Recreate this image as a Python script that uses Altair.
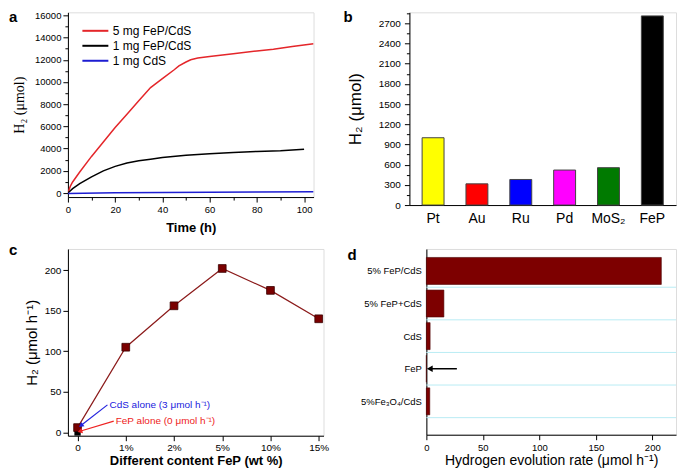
import json
import altair as alt
import pandas as pd

FONT = "Liberation Sans"

# ---------------- Panel a data ----------------
series_names = ["5 mg FeP/CdS", "1 mg FeP/CdS", "1 mg CdS"]
series_colors = ["#e4262a", "#000000", "#1d1dd2"]
red_t = [0, 1, 2, 5, 10, 15, 20, 25, 30, 35, 40, 45, 47, 50, 52, 55, 60, 70, 80, 87, 95, 104]
red_h = [0, 600, 1000, 1900, 3300, 4600, 5900, 7100, 8300, 9500, 10300, 11100, 11450, 11800,
         12000, 12150, 12300, 12550, 12800, 12950, 13200, 13450]
black_t = [0, 2, 5, 10, 15, 20, 25, 30, 35, 40, 50, 60, 70, 80, 90, 100]
black_h = [0, 400, 850, 1450, 2000, 2400, 2700, 2900, 3050, 3200, 3400, 3550, 3650, 3750, 3800, 3950]
blue_t = [0, 20, 40, 60, 80, 104]
blue_h = [-30, 20, 60, 80, 100, 120]

# ---------------- Panel b data ----------------
b_cats = ["Pt", "Au", "Ru", "Pd", "MoS₂", "FeP"]
b_vals = [1000, 315, 380, 520, 555, 2810]
b_colors = ["#ffff00", "#ff0000", "#0000ff", "#ff00ff", "#007a00", "#000000"]

# ---------------- Panel c data ----------------
c_labels = ["0", "1%", "2%", "5%", "10%", "15%"]
c_vals = [6, 105, 156, 202, 175, 140]
c_feP_alone = 0
c_notes = ["CdS alone (3 μmol h⁻¹)", "FeP alone (0 μmol h⁻¹)"]
c_note_colors = ["#2222dd", "#ee2222"]
c_note_x = [0.62, 0.75]
c_note_y = [34, 14]
c_tip_x = [0.07, 0.05]
c_tip_y = [8.5, 1.5]
c_arrow_angle = [323, 343]

# ---------------- Panel d data ----------------
d_names = ["5% FeP/CdS", "5% FeP+CdS", "CdS", "FeP", "5%Fe₃O₄/CdS"]
d_vals = [208, 15.5, 3.3, 0, 3]
d_arrow_from = 27
d_arrow_to = 3

letters = ["a", "b", "c", "d"]


def ax(**kw):
    base = dict(domainColor="black", tickColor="black", labelColor="black", titleColor="black",
                labelFont=FONT, titleFont=FONT, grid=False, labelFlush=False, labelOverlap=False,
                labelFontSize=10, titleFontWeight="normal", tickWidth=1, domainWidth=1)
    base.update(kw)
    return alt.Axis(**base)


def letter(ch, x, y):
    return alt.Chart(pd.DataFrame({"t": [ch]})).mark_text(
        align="left", baseline="alphabetic", fontSize=15, fontWeight="bold", font=FONT
    ).encode(x=alt.value(x), y=alt.value(y), text="t:N")


# ---------------- Panel a ----------------
rows = []
for name, ts, hs in zip(series_names, [red_t, black_t, blue_t], [red_h, black_h, blue_h]):
    for t, h in zip(ts, hs):
        rows.append({"series": name, "t": t, "h": h})
df_a = pd.DataFrame(rows)

a_lines = alt.Chart(df_a).mark_line(strokeWidth=1.5, clip=True).encode(
    x=alt.X("t:Q", scale=alt.Scale(domain=[0, 104], nice=False, zero=False),
            axis=ax(title="Time (h)", values=list(range(0, 101, 10)), format="d",
                    labelExpr="datum.value % 20 === 0 ? datum.label : ''",
                    tickSize={"condition": {"test": "datum.value % 20 === 0", "value": 5}, "value": 3},
                    labelFontSize=9.5, titleFontSize=13, titleFontWeight="bold",
                    labelPadding=2, titlePadding=8)),
    y=alt.Y("h:Q", scale=alt.Scale(domain=[-360, 16270], nice=False, zero=False),
            axis=ax(title="H₂ (μmol)", values=list(range(0, 16001, 1000)), format="d",
                    labelExpr="datum.value % 2000 === 0 ? datum.label : ''",
                    tickSize={"condition": {"test": "datum.value % 2000 === 0", "value": 5}, "value": 3},
                    labelFontSize=9.5, titleFont="Liberation Serif", titleFontSize=14,
                    titlePadding=8, labelPadding=2)),
    color=alt.Color("series:N", scale=alt.Scale(domain=series_names, range=series_colors),
                    legend=alt.Legend(orient="none", legendX=20, legendY=11, title=None,
                                      symbolType="M-2,0H2", symbolSize=169, symbolStrokeWidth=2,
                                      labelFontSize=12, labelFont=FONT, labelColor="black",
                                      rowPadding=1, padding=0, labelOffset=10)),
)
panel_a = alt.layer(a_lines, letter(letters[0], -59, 10)).properties(width=246, height=185)

# ---------------- Panel b ----------------
df_b = pd.DataFrame({"cat": b_cats, "val": b_vals})
b_bars = alt.Chart(df_b).mark_bar(stroke="#444444", strokeWidth=1).encode(
    x=alt.X("cat:N", sort=b_cats,
            scale=alt.Scale(paddingInner=0.5, paddingOuter=0.29),
            axis=ax(title=None, labelAngle=0, labelFontSize=14, ticks=False, labelPadding=6)),
    y=alt.Y("val:Q", scale=alt.Scale(domain=[0, 2863], nice=False),
            axis=ax(title="H₂ (μmol)", values=list(range(0, 2851, 150)), format="d",
                    labelExpr="datum.value % 300 === 0 ? datum.label : ''",
                    tickSize={"condition": {"test": "datum.value % 300 === 0", "value": 5}, "value": 3},
                    titleFontSize=17, titlePadding=14, labelPadding=4)),
    color=alt.Color("cat:N", scale=alt.Scale(domain=b_cats, range=b_colors), legend=None),
)
panel_b = alt.layer(b_bars, letter(letters[1], -66, 10)).properties(width=267, height=193)

# ---------------- Panel c ----------------
df_c = pd.DataFrame({"pos": list(range(len(c_labels))), "val": c_vals})
c_label_js = json.dumps(c_labels)
c_x = alt.X("pos:Q", scale=alt.Scale(domain=[-0.2, 5.1], nice=False, zero=False),
            axis=ax(title="Different content FeP (wt %)", values=[i * 0.5 for i in range(11)],
                    labelExpr=f"datum.value % 1 === 0 ? {c_label_js}[datum.value] : ''",
                    tickSize={"condition": {"test": "datum.value % 1 === 0", "value": 5}, "value": 3},
                    titleFontSize=13, titleFontWeight="bold",
                    labelPadding=2, titlePadding=2))
c_y = alt.Y("val:Q", scale=alt.Scale(domain=[-4, 226], nice=False, zero=False),
            axis=ax(title="H₂ (μmol h⁻¹)", values=list(range(0, 226, 25)), format="d",
                    labelExpr="datum.value % 50 === 0 ? datum.label : ''",
                    tickSize={"condition": {"test": "datum.value % 50 === 0", "value": 5}, "value": 3},
                    titleFontSize=15, titlePadding=5, labelPadding=2))
c_black = alt.Chart(pd.DataFrame({"pos": [0], "val": [c_feP_alone]})).mark_point(
    shape="square", filled=True, size=40, color="black", opacity=1).encode(x=c_x, y=c_y)
c_line = alt.Chart(df_c).mark_line(color="#8b1a1a", strokeWidth=1.2).encode(x=c_x, y=c_y)
c_pts = alt.Chart(df_c).mark_point(shape="square", filled=True, size=60, fill="#7a0000",
                                   stroke="#3a0000", strokeWidth=0.8, opacity=1).encode(x=c_x, y=c_y)
df_note = pd.DataFrame({"note": c_notes, "color": c_note_colors, "nx": c_note_x, "ny": c_note_y,
                        "tx": c_tip_x, "ty": c_tip_y, "ang": c_arrow_angle})
c_arrows = alt.Chart(df_note).mark_rule(strokeWidth=1.2).encode(
    x=alt.X("nx:Q"), y=alt.Y("ny:Q"), x2="tx:Q", y2="ty:Q",
    color=alt.Color("color:N", scale=None))
c_heads = alt.Chart(df_note).mark_point(shape="triangle-left", filled=True, size=30, opacity=1).encode(
    x=alt.X("tx:Q"), y=alt.Y("ty:Q"), angle=alt.Angle("ang:Q", scale=None),
    color=alt.Color("color:N", scale=None))
c_text = alt.Chart(df_note).mark_text(align="left", baseline="middle", dx=2, fontSize=10, font=FONT).encode(
    x=alt.X("nx:Q"), y=alt.Y("ny:Q"), text="note:N", color=alt.Color("color:N", scale=None))
panel_c = alt.layer(c_black, c_line, c_pts, c_arrows, c_heads, c_text,
                    letter(letters[2], -59, 6)).properties(width=256, height=187)

# ---------------- Panel d ----------------
n = len(d_names)
df_d = pd.DataFrame({"name": d_names, "val": d_vals, "pos": [n - i for i in range(n)], "zero": 0})
d_label_js = json.dumps([""] + d_names[::-1])
d_x = alt.X("val:Q", scale=alt.Scale(domain=[0, 221], nice=False, zero=False),
            axis=ax(title="Hydrogen evolution rate (μmol h⁻¹)", values=list(range(0, 221, 25)), format="d",
                    labelExpr="datum.value % 50 === 0 ? datum.label : ''",
                    tickSize={"condition": {"test": "datum.value % 50 === 0", "value": 5}, "value": 3},
                    labelFontSize=9.5, titleFontSize=14, labelPadding=3, titlePadding=1))
d_y = alt.Y("pos:Q", scale=alt.Scale(domain=[0.13, 5.52], nice=False, zero=False),
            axis=ax(title=None, values=list(range(1, n + 1)), ticks=False, labelPadding=5,
                    labelFontSize=9.5, labelExpr=f"{d_label_js}[datum.value]"))
df_grid = pd.DataFrame({"g": [i + 0.5 for i in range(n)]})
d_grid = alt.Chart(df_grid).mark_rule(color="#b9ecf4", strokeWidth=1).encode(y=alt.Y("g:Q"))
d_bars = alt.Chart(df_d).mark_bar(orient="horizontal", size=27, color="#7d0000",
                                  stroke="#4a0000", strokeWidth=0.6).encode(
    x=d_x, x2="zero:Q", y=d_y)
df_darrow = pd.DataFrame({"a": [d_arrow_from], "b": [d_arrow_to], "pos": [2]})
d_arrow = alt.Chart(df_darrow).mark_rule(color="black", strokeWidth=1.5).encode(
    x=alt.X("a:Q"), x2="b:Q", y=alt.Y("pos:Q"))
d_head = alt.Chart(df_darrow).mark_point(shape="triangle-left", filled=True, size=45, color="black",
                                         opacity=1).encode(x=alt.X("b:Q"), y=alt.Y("pos:Q"))
panel_d = alt.layer(d_grid, d_bars, d_arrow, d_head, letter(letters[3], -79, 11)).properties(
    width=250, height=186)

row1 = alt.hconcat(panel_a, panel_b, spacing=96, bounds="flush").resolve_scale(color="independent")
row2 = alt.hconcat(panel_c, panel_d, spacing=103, bounds="flush").resolve_scale(color="independent")
chart = alt.vconcat(row1, row2, spacing=7).resolve_scale(color="independent").properties(
    padding={"left": 0, "top": -1, "right": 0, "bottom": -1}
).configure_view(stroke="black", strokeWidth=1).configure(background="white")

chart.save("out.html", embed_options={"renderer": "svg", "actions": False})
